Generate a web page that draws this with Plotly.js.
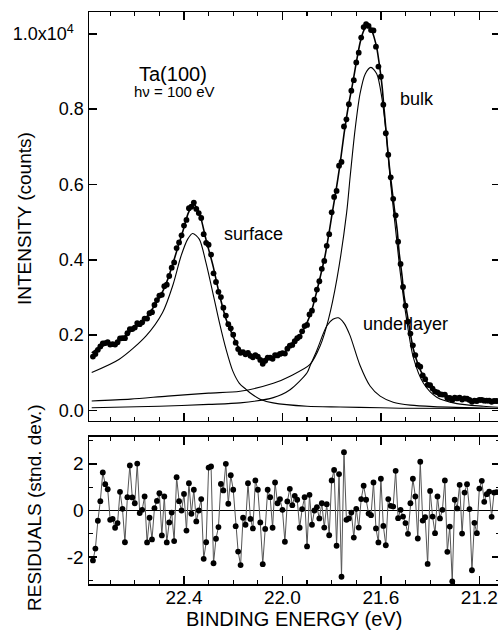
<!DOCTYPE html>
<html>
<head>
<meta charset="utf-8">
<script src="https://cdn.plot.ly/plotly-3.0.1.min.js"></script>
<style>
html,body{margin:0;padding:0;overflow:hidden;background:#fff;width:498px;height:630px}
#chart{width:502px;height:630px}
</style>
</head>
<body>
<div id="chart"></div>
<script>
// ---- measured data (binding energy in eV, intensity in 10^4 counts) ----
const energy = [22.77,22.76,22.75,22.74,22.73,22.72,22.71,22.70,22.69,22.68,22.67,22.66,22.65,22.64,22.63,22.62,22.61,22.60,22.59,22.58,
22.57,22.56,22.55,22.54,22.53,22.52,22.51,22.50,22.49,22.48,22.47,22.46,22.45,22.44,22.43,22.42,22.41,22.40,22.39,22.38,
22.37,22.36,22.35,22.34,22.33,22.32,22.31,22.30,22.29,22.28,22.27,22.26,22.25,22.24,22.23,22.22,22.21,22.20,22.19,22.18,
22.17,22.16,22.15,22.14,22.13,22.12,22.11,22.10,22.09,22.08,22.07,22.06,22.05,22.04,22.03,22.02,22.01,22.00,21.99,21.98,
21.97,21.96,21.95,21.94,21.93,21.92,21.91,21.90,21.89,21.88,21.87,21.86,21.85,21.84,21.83,21.82,21.81,21.80,21.79,21.78,
21.77,21.76,21.75,21.74,21.73,21.72,21.71,21.70,21.69,21.68,21.67,21.66,21.65,21.64,21.63,21.62,21.61,21.60,21.59,21.58,
21.57,21.56,21.55,21.54,21.53,21.52,21.51,21.50,21.49,21.48,21.47,21.46,21.45,21.44,21.43,21.42,21.41,21.40,21.39,21.38,
21.37,21.36,21.35,21.34,21.33,21.32,21.31,21.30,21.29,21.28,21.27,21.26,21.25,21.24,21.23,21.22,21.21,21.20,21.19,21.18,
21.17,21.16,21.15,21.14,21.13];

const intensity = [0.143,0.150,0.161,0.170,0.178,0.179,0.181,0.175,0.176,0.175,0.181,0.191,0.192,0.192,0.205,0.216,0.216,0.220,0.232,0.229,
0.234,0.244,0.244,0.258,0.261,0.280,0.293,0.305,0.307,0.330,0.334,0.357,0.379,0.393,0.431,0.446,0.465,0.491,0.506,0.537,
0.541,0.552,0.535,0.524,0.511,0.468,0.445,0.440,0.414,0.364,0.341,0.315,0.301,0.273,0.252,0.229,0.218,0.201,0.180,0.163,
0.153,0.155,0.149,0.153,0.145,0.141,0.147,0.143,0.134,0.124,0.132,0.140,0.140,0.137,0.147,0.146,0.150,0.152,0.151,0.164,
0.172,0.174,0.184,0.192,0.196,0.210,0.224,0.227,0.255,0.265,0.294,0.321,0.343,0.376,0.397,0.437,0.468,0.526,0.567,0.583,
0.650,0.660,0.754,0.773,0.813,0.849,0.877,0.924,0.950,0.990,1.018,1.026,1.021,1.010,1.009,0.966,0.913,0.886,0.812,0.736,
0.679,0.619,0.562,0.518,0.448,0.389,0.328,0.278,0.236,0.204,0.173,0.147,0.121,0.116,0.093,0.083,0.068,0.067,0.058,0.050,
0.048,0.043,0.042,0.042,0.033,0.033,0.028,0.034,0.032,0.034,0.029,0.032,0.031,0.028,0.023,0.026,0.025,0.028,0.028,0.026,
0.026,0.026,0.023,0.025,0.025];

const residuals = [-2.14,-1.63,-0.44,0.40,1.63,1.13,0.91,-0.40,-0.36,-0.74,-0.54,0.80,0.07,-1.36,0.57,1.93,0.56,0.31,2.01,-0.11,
0.03,0.60,-1.37,-0.31,-1.24,0.10,0.41,0.74,-1.07,0.60,-1.37,-0.51,-0.09,-1.31,1.43,0.40,0.00,0.71,-0.86,1.17,
-0.14,0.89,-0.47,0.00,0.49,-2.07,-1.36,1.84,1.89,-2.26,-1.21,-0.71,1.14,0.86,2.00,0.29,1.51,0.89,-0.67,-1.76,
-2.34,-0.31,-0.61,1.17,-0.36,-0.77,1.29,0.89,-0.51,-2.30,-0.79,0.89,0.57,-0.74,1.20,0.31,0.49,0.03,-1.34,0.39,
0.93,0.23,0.63,0.46,-0.74,0.06,0.57,-1.54,0.67,-0.61,0.00,0.14,-0.34,0.31,-0.73,0.27,-1.06,1.29,1.74,-1.51,
1.56,-2.84,2.50,-0.40,-0.34,-0.09,-1.16,0.07,-0.73,0.49,1.06,0.46,-0.13,-0.20,1.20,-0.77,-1.37,1.36,-0.66,-1.49,
0.49,0.20,0.17,1.70,-0.33,0.03,-0.26,-0.54,-1.00,0.31,1.36,0.60,-1.20,2.09,-0.43,-0.29,-2.29,0.84,-0.26,-0.97,
0.60,-0.34,0.03,1.29,-1.77,-0.69,-3.04,0.46,0.09,1.10,-0.99,0.77,1.13,0.06,-2.56,-0.53,-0.97,0.94,1.27,0.37,
0.70,0.81,-0.27,0.77,0.79];

// ---- fitted curves ----
const fitEnergy = [22.775,22.742,22.713,22.680,22.648,22.607,22.567,22.526,22.485,22.465,22.445,22.424,22.404,22.384,22.367,22.359,22.347,22.331,22.311,22.282,
22.258,22.229,22.201,22.176,22.148,22.111,22.079,22.038,21.998,21.957,21.928,21.900,21.880,21.863,21.847,21.827,21.811,21.798,21.782,21.766,
21.750,21.733,21.717,21.701,21.685,21.672,21.660,21.652,21.640,21.628,21.615,21.607,21.595,21.587,21.579,21.571,21.559,21.546,21.534,21.526,
21.514,21.506,21.493,21.481,21.469,21.449,21.428,21.400,21.372,21.319,21.250,21.185,21.116];
const fitTotal = [0.153,0.167,0.176,0.180,0.193,0.215,0.236,0.272,0.318,0.350,0.390,0.435,0.477,0.522,0.543,0.546,0.537,0.510,0.455,0.384,
0.313,0.242,0.198,0.165,0.150,0.142,0.135,0.140,0.152,0.175,0.200,0.233,0.268,0.310,0.353,0.410,0.470,0.523,0.585,0.654,
0.733,0.805,0.860,0.920,0.975,1.005,1.020,1.023,1.013,0.992,0.957,0.922,0.860,0.800,0.742,0.682,0.610,0.540,0.480,0.420,
0.357,0.305,0.255,0.207,0.165,0.122,0.092,0.065,0.047,0.034,0.029,0.025,0.023];

const surfaceEnergy = [22.775,22.663,22.554,22.487,22.446,22.412,22.385,22.365,22.338,22.311,22.283,22.256,22.229,22.202,22.175,22.148,22.132,22.091,22.038,21.900,21.766,21.602,21.522,21.116];
const surface = [0.101,0.136,0.198,0.260,0.331,0.410,0.455,0.470,0.455,0.393,0.313,0.233,0.162,0.105,0.072,0.056,0.047,0.030,0.020,0.011,0.009,0.007,0.006,0.005];

const bulkEnergy = [22.775,22.617,22.467,22.300,22.172,22.037,21.969,21.888,21.847,21.813,21.779,21.739,21.725,21.705,21.685,21.664,21.641,21.617,21.596,21.576,21.563,21.546,21.536,21.522,21.494,21.468,21.427,21.373,21.291,21.183,21.116];
const bulk = [0.025,0.030,0.038,0.046,0.051,0.072,0.091,0.122,0.171,0.242,0.348,0.526,0.620,0.745,0.840,0.893,0.911,0.894,0.830,0.720,0.620,0.515,0.455,0.370,0.235,0.140,0.072,0.035,0.018,0.011,0.008];

const underEnergy = [22.775,22.500,22.300,22.172,22.037,21.969,21.900,21.888,21.860,21.820,21.795,21.773,21.750,21.726,21.685,21.644,21.603,21.550,21.480,21.387,21.116];
const underlayer = [0.007,0.011,0.016,0.020,0.034,0.055,0.100,0.118,0.160,0.224,0.242,0.246,0.232,0.200,0.120,0.065,0.038,0.022,0.014,0.010,0.005];

// ---- tick labels ----
const xTickVals = [22.4, 22.0, 21.6, 21.2];
const xTickText = ['22.4', '22.0', '21.6', '21.2'];
const yTickVals = [0.0, 0.2, 0.4, 0.6, 0.8, 1.0];
const yTickText = ['0.0', '0.2', '0.4', '0.6', '0.8', '1.0x10<sup>4</sup>\u00a0\u00a0'];
const rTickVals = [-2, 0, 2];
const rTickText = ['-2', '0', '2'];

// ---- labels ----
const peakLabels = [
  {text: 'Ta(100)', x: 22.445, y: 0.893, size: 20, anchor: 'center'},
  {text: 'hν = 100 eV', x: 22.441, y: 0.848, size: 15, anchor: 'center'},
  {text: 'surface', x: 22.246, y: 0.468, size: 18, anchor: 'left'},
  {text: 'bulk', x: 21.453, y: 0.827, size: 18, anchor: 'center'},
  {text: 'underlayer', x: 21.502, y: 0.229, size: 18, anchor: 'center'}
];

const FONT = '"Liberation Sans", Arial, Helvetica, sans-serif';
const BLACK = '#000';

const traces = [
  {x: surfaceEnergy, y: surface, xaxis: 'x2', yaxis: 'y', mode: 'lines', line: {color: BLACK, width: 1.1, shape: 'spline', smoothing: 0.8}},
  {x: bulkEnergy, y: bulk, xaxis: 'x2', yaxis: 'y', mode: 'lines', line: {color: BLACK, width: 1.1, shape: 'spline', smoothing: 0.8}},
  {x: underEnergy, y: underlayer, xaxis: 'x2', yaxis: 'y', mode: 'lines', line: {color: BLACK, width: 1.1, shape: 'spline', smoothing: 0.8}},
  {x: fitEnergy, y: fitTotal, xaxis: 'x2', yaxis: 'y', mode: 'lines', line: {color: BLACK, width: 1.6, shape: 'spline', smoothing: 0.6}},
  {x: energy, y: intensity, xaxis: 'x2', yaxis: 'y', mode: 'markers', marker: {color: BLACK, size: 5.8}},
  {x: energy, y: residuals, xaxis: 'x', yaxis: 'y2', mode: 'lines+markers',
   line: {color: '#555', width: 1}, marker: {color: BLACK, size: 5.8}}
];

const xRange = [22.786, 21.116];
const axisCommon = {
  showline: true, linecolor: BLACK, linewidth: 1.5, mirror: 'allticks',
  ticks: 'inside', tickcolor: BLACK, tickwidth: 1.5, showgrid: false, zeroline: false
};

const annotations = peakLabels.map(l => ({
  text: l.text, x: l.x, y: l.y, xref: 'x2', yref: 'y', showarrow: false,
  xanchor: l.anchor, yanchor: 'middle', font: {family: FONT, size: l.size, color: BLACK}
}));

// axis titles (pixel positions converted to paper fractions)
const plotL = 89, plotW = 411, plotT = 12, plotH = 572;
const toPaperX = px => (px - plotL) / plotW;
const toPaperY = py => (plotT + plotH - py) / plotH;
annotations.push({
  text: 'INTENSITY (counts)', textangle: -90, xref: 'paper', yref: 'paper',
  x: toPaperX(24), y: toPaperY(219), xanchor: 'center', yanchor: 'middle',
  showarrow: false, font: {family: FONT, size: 19, color: BLACK}
});
annotations.push({
  text: 'RESIDUALS (stnd. dev.)', textangle: -90, xref: 'paper', yref: 'paper',
  x: toPaperX(35), y: toPaperY(508), xanchor: 'center', yanchor: 'middle',
  showarrow: false, font: {family: FONT, size: 19, color: BLACK}
});
annotations.push({
  text: 'BINDING ENERGY (eV)', xref: 'paper', yref: 'paper',
  x: toPaperX(294), y: toPaperY(619), xanchor: 'center', yanchor: 'middle',
  showarrow: false, font: {family: FONT, size: 20, color: BLACK}
});

const layout = {
  width: 502, height: 630,
  margin: {l: plotL, r: 2, t: plotT, b: 630 - plotT - plotH, pad: 0},
  paper_bgcolor: '#fff', plot_bgcolor: '#fff',
  showlegend: false,
  font: {family: FONT, size: 18, color: BLACK},
  xaxis: Object.assign({}, axisCommon, {
    domain: [0, 1], anchor: 'y2', range: xRange, autorange: false,
    tickvals: xTickVals, ticktext: xTickText, ticklen: 8, ticklabelstandoff: -4,
    minor: {dtick: 0.1, tick0: 22.4, ticks: 'inside', ticklen: 4, tickwidth: 1.2, tickcolor: BLACK},
    tickfont: {family: FONT, size: 19, color: BLACK}
  }),
  xaxis2: Object.assign({}, axisCommon, {
    domain: [0, 1], anchor: 'y', range: xRange, autorange: false, matches: 'x',
    tickvals: xTickVals, ticklen: 8, showticklabels: false,
    minor: {dtick: 0.1, tick0: 22.4, ticks: 'inside', ticklen: 4, tickwidth: 1.2, tickcolor: BLACK}
  }),
  yaxis: Object.assign({}, axisCommon, {
    domain: [0.285, 1], anchor: 'x2', range: [-0.028, 1.058], autorange: false,
    tickvals: yTickVals, ticktext: yTickText, ticklen: 8,
    tickfont: {family: FONT, size: 18, color: BLACK}
  }),
  yaxis2: Object.assign({}, axisCommon, {
    domain: [0, 0.257], anchor: 'x', range: [-3.15, 3.15], autorange: false,
    tickvals: rTickVals, ticktext: rTickText, ticklen: 8,
    minor: {dtick: 1, tick0: 0, ticks: 'inside', ticklen: 4, tickwidth: 1.2, tickcolor: BLACK},
    zeroline: true, zerolinecolor: BLACK, zerolinewidth: 1.6,
    tickfont: {family: FONT, size: 19, color: BLACK}
  }),
  annotations: annotations
};

Plotly.newPlot('chart', traces, layout, {staticPlot: true, displayModeBar: false});
</script>
</body>
</html>
